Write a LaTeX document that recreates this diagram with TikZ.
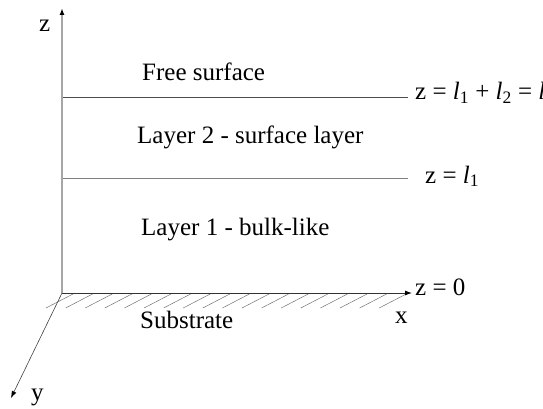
\documentclass[tikz,border=0pt]{standalone}
\usepackage{fontspec}
\setmainfont{Liberation Serif}
\usetikzlibrary{arrows.meta}
\begin{document}
\begin{tikzpicture}[x=1pt,y=-1pt,
  lbl/.style={font=\fontsize{25}{30}\selectfont, inner sep=0pt, anchor=base west},
  tip/.style={-{Latex[length=7pt,width=5pt,fill=black,color=black]}},
  level/.style={draw=black!70,line width=0.8pt},
  hatch/.style={draw=black!55,line width=0.5pt}]
\useasboundingbox (0,0) rectangle (543,409);
\coordinate (O) at (62,293);
\coordinate (ztip) at (62,8);
\coordinate (xtip) at (412,293);
\coordinate (ytip) at (11,398);
% hatching
\foreach \i in {0,...,17} {
  \draw[hatch] ({46+\i*19.6},308) -- ({73+\i*19.6},294);
}
\draw[tip,draw=black!35,line width=1.6pt] (O) -- (ztip);
\draw[tip,draw=black!80,line width=0.9pt] (O) -- (xtip);
\draw[tip,draw=black!75,line width=0.6pt] (O) -- (ytip);
\coordinate (l2a) at (63,97);
\coordinate (l2b) at (408,97);
\coordinate (l1a) at (63,178);
\coordinate (l1b) at (408,178);
\draw[level] (l2a) -- (l2b);
\draw[level,draw=black!50] (l1a) -- (l1b);
\node[lbl] (zl) at (39,32) {z};
\node[lbl] (xl) at (395,323) {x};
\node[lbl] (yl) at (31,400) {y};
\node[lbl] (z0) at (415,295) {z = 0};
\node[lbl] (ztop) at (415,100) {z = {\itshape l}\textsubscript{1} + {\itshape l}\textsubscript{2} = {\itshape l}};
\node[lbl] (z1) at (425,183) {z = {\itshape l}\textsubscript{1}};
\node[lbl] (free) at (142,81) {Free surface};
\node[lbl] (lay2) at (137,143) {Layer 2 - surface layer};
\node[lbl] (lay1) at (141,235) {Layer 1 - bulk-like};
\node[lbl] (sub) at (140,328) {Substrate};
\end{tikzpicture}
\end{document}
